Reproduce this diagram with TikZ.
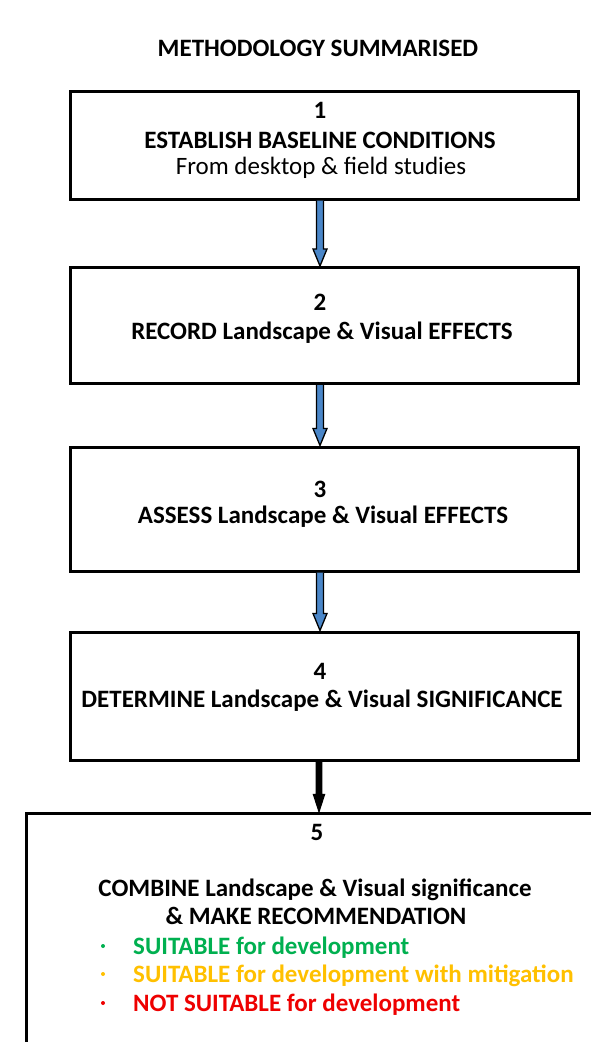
\documentclass[tikz,border=0pt]{standalone}
\usepackage{fontspec}
\setmainfont{Carlito}
\usetikzlibrary{calc}
\definecolor{okgreen}{HTML}{00B050}
\definecolor{okyellow}{HTML}{FFC000}
\definecolor{okred}{HTML}{EE0000}
\definecolor{arrowblue}{HTML}{4A86C8}
\newcommand\fatarr[5]{% fill, from, to, half shaft width, half head width
  \filldraw[fill=#1,draw=black,line width=1.3pt,line join=miter]
    ($(#2)+(-#4,0)$) -- ($(#3)+(-#4,17)$) -- ($(#3)+(-#5,17)$) -- (#3)
    -- ($(#3)+(#5,17)$) -- ($(#3)+(#4,17)$) -- ($(#2)+(#4,0)$);}
\begin{document}
\begin{tikzpicture}[x=1pt,y=1pt,
  box/.style={draw,line width=3pt,minimum width=508pt,inner sep=0pt,anchor=north west},
  txt/.style={font=\fontsize{25}{30}\selectfont\bfseries,inner sep=0pt,anchor=base},
  rtxt/.style={font=\fontsize{25}{30}\selectfont,inner sep=0pt,anchor=base},
  btxt/.style={font=\fontsize{25}{30}\selectfont\bfseries,inner sep=0pt,anchor=base west},
  dot/.style={circle,inner sep=0pt,minimum size=4pt}]
\useasboundingbox (0,0) rectangle (591,-1042);
\clip (0,0) rectangle (591,-1042);
\fill[white] (0,0) rectangle (591,-1042);

\node[txt] (title) at (318,-56) {METHODOLOGY SUMMARISED};

\node[box,minimum height=108pt] (b1) at (68.5,-89.5) {};
\node[box,minimum height=116pt] (b2) at (68.5,-266) {};
\node[box,minimum height=124pt] (b3) at (68.5,-445.5) {};
\node[box,minimum height=128pt] (b4) at (68.5,-630.5) {};
\node[box,minimum width=620pt,minimum height=260pt] (b5) at (24.5,-811.5) {};

\node[txt] (n1) at (320,-118) {1};
\node[txt] (t1) at (320,-148) {ESTABLISH BASELINE CONDITIONS};
\node[rtxt] (s1) at (321,-174) {From desktop \& field studies};

\node[txt] (n2) at (320,-310) {2};
\node[txt] (t2) at (322,-339) {RECORD Landscape \& Visual EFFECTS};

\node[txt] (n3) at (320,-497) {3};
\node[txt] (t3) at (323,-523) {ASSESS Landscape \& Visual EFFECTS};

\node[txt] (n4) at (320,-679) {4};
\node[txt] (t4) at (322,-707) {DETERMINE Landscape \& Visual SIGNIFICANCE};

\node[txt] (n5) at (317,-840) {5};
\node[txt] (t5a) at (315,-896) {COMBINE Landscape \& Visual significance};
\node[txt] (t5b) at (316,-924) {\& MAKE RECOMMENDATION};

\node[dot,fill=okgreen] (d1) at (103,-946) {};
\node[btxt,text=okgreen] (l1) at (133,-954) {SUITABLE for development};
\node[dot,fill=okyellow] (d2) at (103,-974) {};
\node[btxt,text=okyellow] (l2) at (133,-982) {SUITABLE for development with mitigation};
\node[dot,fill=okred] (d3) at (103,-1003) {};
\node[btxt,text=okred] (l3) at (133,-1011) {NOT SUITABLE for development};

\coordinate (ax) at (320,0);
\coordinate (a1s) at (b1.south -| ax);
\coordinate (a1e) at (b2.north -| ax);
\coordinate (a2s) at (b2.south -| ax);
\coordinate (a2e) at (b3.north -| ax);
\coordinate (a3s) at (b3.south -| ax);
\coordinate (a3e) at (b4.north -| ax);
\coordinate (bx) at (319,0);
\coordinate (a4s) at (b4.south -| bx);
\coordinate (a4e) at (b5.north -| bx);
\fatarr{arrowblue}{a1s}{a1e}{3.5}{7}
\fatarr{arrowblue}{a2s}{a2e}{3.5}{7}
\fatarr{arrowblue}{a3s}{a3e}{3.5}{7}
\fatarr{black}{a4s}{a4e}{2.8}{5.5}
\end{tikzpicture}
\end{document}
